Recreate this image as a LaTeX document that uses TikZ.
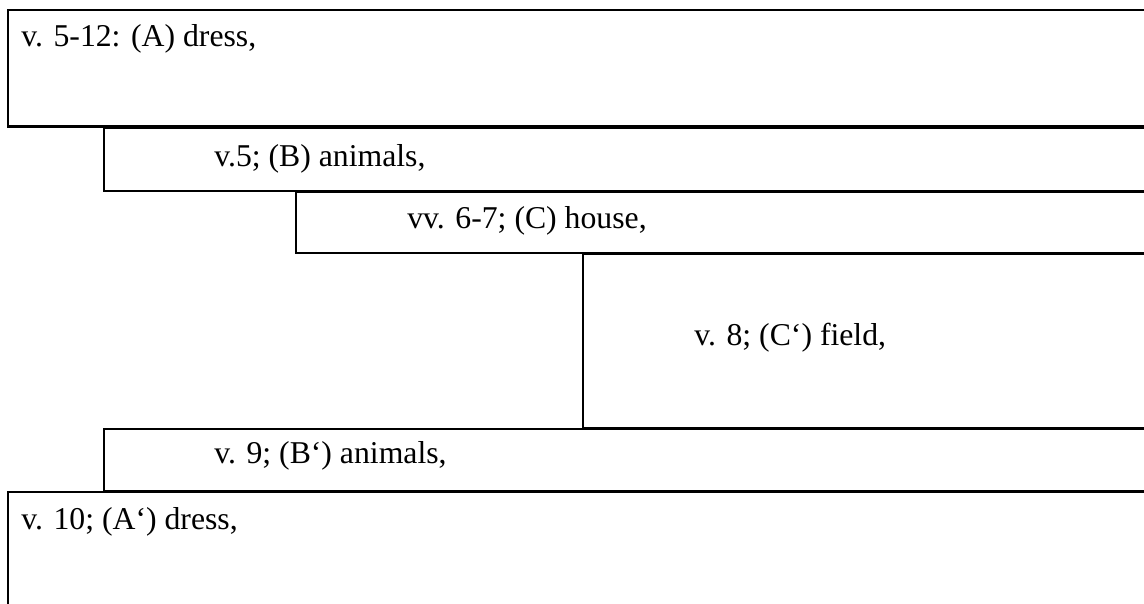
\documentclass[tikz,border=0pt]{standalone}
\usepackage{fontspec}
\setmainfont{Liberation Serif}
\begin{document}
\begin{tikzpicture}[x=0.75pt,y=-0.75pt,
  frame/.style={line width=1.8pt, draw=black},
  verse/.style={anchor=base west, inner sep=0pt, font=\fontsize{23.8}{28}\selectfont}]
\useasboundingbox (0,0) rectangle (1144,603);
\clip (0,0) rectangle (1144,603);
% nested steps of the chiasm, each box running off to the right
\draw[frame] (8,10)     rectangle (1170,126.5);
\draw[frame] (104,127.5) rectangle (1170,191);
\draw[frame] (296,192)  rectangle (1170,253);
\draw[frame] (583,254)  rectangle (1170,428);
\draw[frame] (104,429)  rectangle (1170,491);
\draw[frame] (8,492)    rectangle (1170,640);
% labels
\node[verse] (a)  at (21,46)   {v. 5-12: (A) dress,};
\node[verse] (b)  at (214,166) {v.5; (B) animals,};
\node[verse] (c)  at (407,228) {vv. 6-7; (C) house,};
\node[verse] (c2) at (694,345) {v. 8; (C‘) field,};
\node[verse] (b2) at (214,463) {v. 9; (B‘) animals,};
\node[verse] (a2) at (21,529)  {v. 10; (A‘) dress,};
\end{tikzpicture}
\end{document}
